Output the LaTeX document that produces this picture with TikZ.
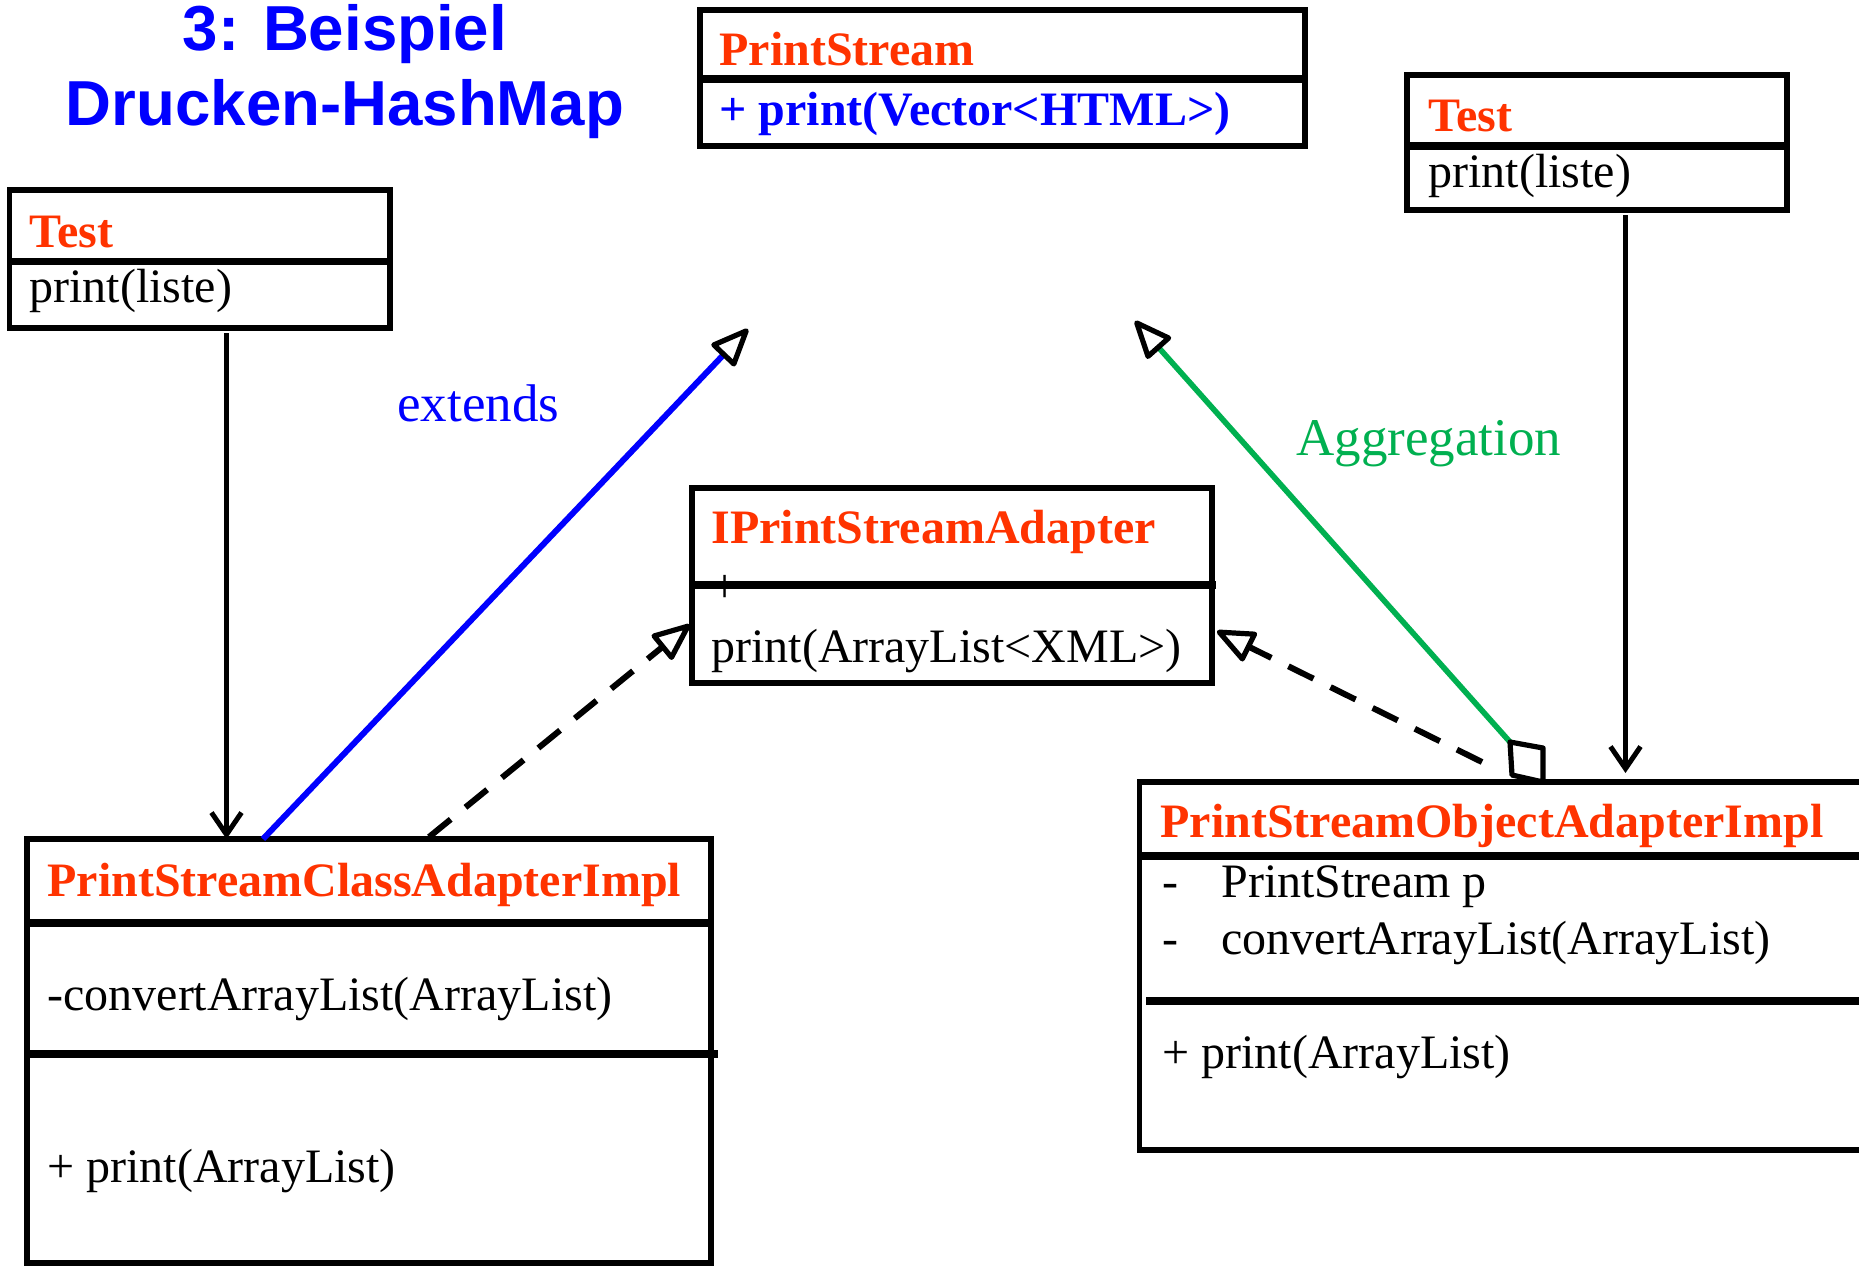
\documentclass[tikz,border=0pt]{standalone}
\usepackage{fontspec}
\setmainfont{Liberation Serif}
\newfontfamily\headsans{Liberation Sans}
\usetikzlibrary{arrows.meta,calc}
\definecolor{hdred}{RGB}{255,51,0}
\definecolor{umlblue}{RGB}{0,0,255}
\definecolor{aggreen}{RGB}{0,176,80}

\begin{document}
\begin{tikzpicture}[x=0.5pt,y=-0.5pt,
  classbox/.style={draw=black, line width=2.7pt, inner sep=0pt, outer sep=0pt},
  rule/.style={line width=3.8pt},
  hd/.style={anchor=base west, inner sep=0pt, text=hdred,
    font=\fontsize{24pt}{28pt}\selectfont\bfseries},
  txt/.style={anchor=base west, inner sep=0pt,
    font=\fontsize{24pt}{28pt}\selectfont},
  lbl/.style={anchor=base west, inner sep=0pt,
    font=\fontsize{26.5pt}{30pt}\selectfont},
  hollow/.tip={Triangle[length=21pt, width=17pt, fill=white, color=black, line width=2.6pt, round]},
  call/.style={line width=2.7pt, -{Straight Barb[length=11pt, width=15pt, line width=2.5pt]}},
  realize/.style={line width=3pt, dash pattern=on 14pt off 9.5pt, -hollow},
]
\useasboundingbox (0,0) rectangle (1859,1265);
\clip (0,0) rectangle (1859,1265);
\fill[white] (0,0) rectangle (1859,1265);

% heading
\node[anchor=base, inner sep=0pt, text=umlblue, font=\headsans\bfseries\fontsize{31.8pt}{36pt}\selectfont] (title1) at (345,50) {3: Beispiel};
\node[anchor=base, inner sep=0pt, text=umlblue, font=\headsans\bfseries\fontsize{31.8pt}{36pt}\selectfont] (title2) at (345,125) {Drucken-HashMap};

% class PrintStream
\node[classbox, minimum width=302.5pt, minimum height=68pt] (ps) at (1002.5,78) {};
\draw[rule] ($(ps.north west)+(0,69)$) -- ($(ps.north east)+(0,69)$);
\node[hd] (psName) at (719,65) {PrintStream};
\node[hd, text=umlblue] (psOp) at (719,125) {+ print(Vector<HTML>)};

% class Test (left)
\node[classbox, minimum width=190.25pt, minimum height=69pt] (tl) at (199.75,259) {};
\draw[rule] ($(tl.north west)+(0,71.5)$) -- ($(tl.north east)+(0,71.5)$);
\node[hd] (tlName) at (29,247) {Test};
\node[txt] (tlOp) at (29,302) {print(liste)};

% class Test (right)
\node[classbox, minimum width=190pt, minimum height=67.5pt] (tr) at (1597,142.5) {};
\draw[rule] ($(tr.north west)+(0,71)$) -- ($(tr.north east)+(0,71)$);
\node[hd] (trName) at (1428,131) {Test};
\node[txt] (trOp) at (1428,187) {print(liste)};

% interface IPrintStreamAdapter
\node[classbox, minimum width=260pt, minimum height=97.5pt] (ia) at (952,585.5) {};
\node[hd] (iaName) at (711,543) {IPrintStreamAdapter};
\node[txt] (iaPlus) at (711,602) {+};
\draw[rule] ($(ia.north west)+(0,97)$) -- ($(ia.north east)+(4,97)$);
\node[txt] (iaOp) at (711,662) {print(ArrayList<XML>)};

% class PrintStreamClassAdapterImpl
\node[classbox, minimum width=342pt, minimum height=212pt] (cls) at (369,1051) {};
\draw[rule] ($(cls.north west)+(0,84)$) -- ($(cls.north east)+(0,84)$);
\draw[rule] ($(cls.north west)+(0,215)$) -- ($(cls.north east)+(7,215)$);
\node[hd] (clsName) at (47,896) {PrintStreamClassAdapterImpl};
\node[txt] (clsAttr) at (47,1010) {-convertArrayList(ArrayList)};
\node[txt] (clsOp) at (47,1182) {+ print(ArrayList)};

% class PrintStreamObjectAdapterImpl
\node[classbox, minimum width=372.75pt, minimum height=184pt] (obj) at (1512.25,966) {};
\draw[rule] ($(obj.north west)+(0,74)$) -- ($(obj.north east)+(0,74)$);
\draw[rule] ($(obj.north west)+(6.5,219)$) -- ($(obj.north east)+(0,219)$);
\node[hd] (objName) at (1160,837) {PrintStreamObjectAdapterImpl};
\node[txt] (objDash1) at (1162,897) {-};
\node[txt] (objAttr1) at (1221,897) {PrintStream p};
\node[txt] (objDash2) at (1162,954) {-};
\node[txt] (objAttr2) at (1221,954) {convertArrayList(ArrayList)};
\node[txt] (objOp) at (1162,1068) {+ print(ArrayList)};

% calls from the two test classes
\draw[call] ($(tl.south west)+(217,5)$) -- ($(cls.north west)+(199.5,0)$);
\draw[call] ($(tr.south west)+(218.5,5)$) -- ($(obj.north west)+(486,-9)$);

% inheritance
\coordinate (extTip) at (748,329);
\draw[line width=3pt, umlblue, -hollow] ($(cls.north west)+(236,0)$) -- (extTip);
\node[lbl, text=umlblue] (extLbl) at (397,421) {extends};

% aggregation with its diamond
\coordinate (aggTip) at (1135,321);
\coordinate (dmBot) at ($(obj.north west)+(403.5,0)$);
\coordinate (dmTop) at ($(dmBot)+(-33,-40)$);
\draw[line width=2.8pt, aggreen, -hollow] (dmTop) -- (aggTip);
\draw[line width=2.6pt, line join=round, fill=white] (dmBot) -- ++(-31,-7) -- ++(-2,-33) -- ++(33,6) -- cycle;
\node[lbl, text=aggreen] (aggLbl) at (1296,455) {Aggregation};

% realizations of the interface
\draw[realize] ($(cls.north west)+(402,-2)$) -- ($(ia.north west)+(-2,136.5)$);
\draw[realize] ($(obj.north west)+(342.5,-20)$) -- ($(ia.north east)+(5,143)$);
\end{tikzpicture}
\end{document}
